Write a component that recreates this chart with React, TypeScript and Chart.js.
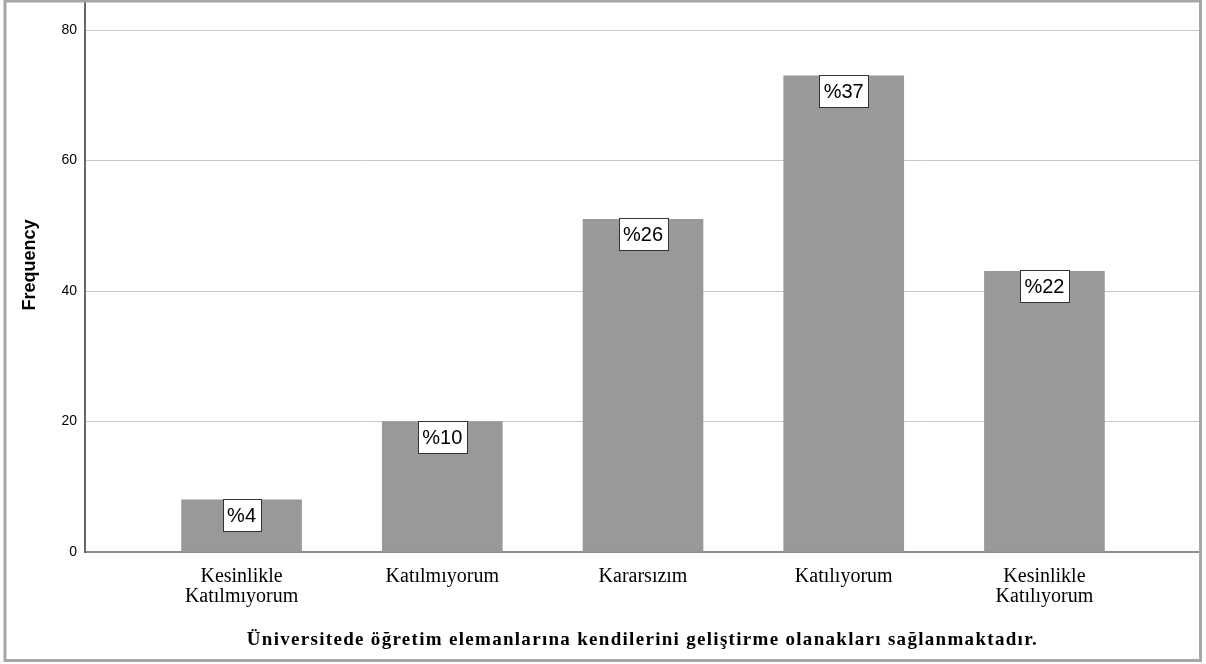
import React, { useEffect, useRef } from "react";
import { Chart, registerables } from "chart.js";

Chart.register(...registerables);

const categories: (string | string[])[] = [
  ["Kesinlikle", "Katılmıyorum"],
  "Katılmıyorum",
  "Kararsızım",
  "Katılıyorum",
  ["Kesinlikle", "Katılıyorum"],
];
const frequencies = [8, 20, 51, 73, 43];
const percentLabels = ["%4", "%10", "%26", "%37", "%22"];
const yTicks = [0, 20, 40, 60, 80];
const yTitle = "Frequency";
const xTitle = "Üniversitede öğretim elemanlarına kendilerini geliştirme olanakları sağlanmaktadır.";

const W = 1206;
const H = 664;

const framePlugin = {
  id: "frame",
  afterDraw(chart: any) {
    const ctx = chart.ctx;
    ctx.save();
    ctx.strokeStyle = "#a6a6a6";
    ctx.lineWidth = 3;
    ctx.strokeRect(5, 1, 1195.5, 659.5);
    ctx.restore();
  },
};

const titlesPlugin = {
  id: "titles",
  afterDraw(chart: any) {
    const ctx = chart.ctx;
    const area = chart.chartArea;
    ctx.save();
    ctx.fillStyle = "#000";
    ctx.font = "bold 18px 'Liberation Sans', Arial, sans-serif";
    ctx.textAlign = "center";
    ctx.textBaseline = "middle";
    ctx.translate(30, 265);
    ctx.rotate(-Math.PI / 2);
    ctx.fillText(yTitle, 0, 0);
    ctx.restore();

    ctx.save();
    ctx.fillStyle = "#000";
    ctx.font = "bold 19px 'Liberation Serif', 'Times New Roman', serif";
    try {
      (ctx as any).letterSpacing = "1.3px";
    } catch (e) {}
    ctx.textAlign = "center";
    ctx.textBaseline = "middle";
    ctx.fillText(xTitle, (area.left + area.right) / 2, 640);
    ctx.restore();
  },
};

const boxLabelPlugin = {
  id: "boxLabels",
  afterDatasetsDraw(chart: any) {
    const ctx = chart.ctx;
    const meta = chart.getDatasetMeta(0);
    ctx.save();
    ctx.font = "20px 'Liberation Sans', Arial, sans-serif";
    meta.data.forEach((bar: any, i: number) => {
      const text = percentLabels[i];
      const tw = ctx.measureText(text).width;
      const bw = Math.round(tw + 9);
      const bh = 32;
      const left = Math.round(bar.x - bw / 2) + 0.5;
      const top = Math.round(bar.y) - 0.5;
      ctx.fillStyle = "#ffffff";
      ctx.fillRect(left, top, bw, bh);
      ctx.strokeStyle = "#333333";
      ctx.lineWidth = 1;
      ctx.strokeRect(left, top, bw, bh);
      ctx.fillStyle = "#000000";
      ctx.textAlign = "center";
      ctx.textBaseline = "middle";
      ctx.fillText(text, bar.x, top + bh / 2 + 1);
    });
    ctx.restore();
  },
};

export default function App() {
  const canvasRef = useRef<HTMLCanvasElement | null>(null);

  useEffect(() => {
    const canvas = canvasRef.current;
    if (!canvas) return;
    const chart = new Chart(canvas, {
      type: "bar",
      data: {
        datasets: [
          {
            label: yTitle,
            data: frequencies.map((v, i) => ({ x: i, y: v })),
            backgroundColor: "#999999",
            borderWidth: 0,
            barThickness: 120,
          } as any,
        ],
      },
      options: {
        animation: false,
        responsive: false,
        maintainAspectRatio: false,
        layout: { padding: { top: 2, right: 6, left: 0, bottom: 0 } },
        plugins: {
          legend: { display: false },
          tooltip: { enabled: false },
          title: { display: false },
        },
        scales: {
          x: {
            type: "linear",
            offset: false,
            min: -0.78,
            max: 4.775,
            afterBuildTicks: (scale: any) => {
              scale.ticks = categories.map((_, i) => ({ value: i }));
            },
            afterFit: (scale: any) => {
              scale.height = 112;
              scale.paddingLeft = 0;
              scale.paddingRight = 0;
            },
            grid: { display: true, offset: false, color: "rgba(0,0,0,0)", drawTicks: false },
            border: { display: true, color: "#8c8c8c", width: 2 },
            ticks: {
              autoSkip: false,
              maxRotation: 0,
              minRotation: 0,
              padding: 15,
              color: "#000",
              font: { family: "'Liberation Serif', 'Times New Roman', serif", size: 20, lineHeight: 0.975 },
              callback: (value: any) => categories[Math.round(Number(value))] as any,
            },
          },
          y: {
            type: "linear",
            min: 0,
            max: 84.3,
            afterBuildTicks: (scale: any) => {
              scale.ticks = yTicks.map((v) => ({ value: v }));
            },
            afterFit: (scale: any) => {
              scale.width = 85;
              scale.paddingTop = 0;
              scale.paddingBottom = 0;
            },
            grid: { color: "#c8c8c8", lineWidth: 1, drawTicks: false },
            border: { display: true, color: "#666666", width: 2 },
            ticks: {
              padding: 8,
              color: "#000",
              font: { family: "'Liberation Sans', Arial, sans-serif", size: 14 },
            },
          },
        },
      },
      plugins: [boxLabelPlugin, titlesPlugin, framePlugin],
    });
    return () => chart.destroy();
  }, []);

  return (
    <div style={{ position: "absolute", left: 0, top: 0, width: W, height: H, background: "#fff" }}>
      <canvas ref={canvasRef} width={W} height={H} style={{ display: "block", width: W, height: H }} />
    </div>
  );
}
